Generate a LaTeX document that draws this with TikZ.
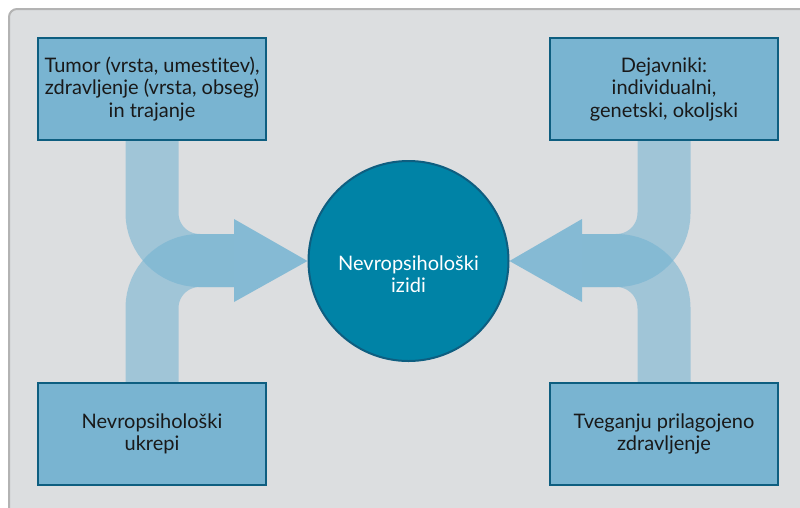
\documentclass[tikz,border=0pt]{standalone}
\usepackage{fontspec}
\setmainfont{Lato}[Ligatures={NoCommon}]
\usetikzlibrary{backgrounds}
\definecolor{paneel}{RGB}{220,222,224}
\definecolor{rob}{RGB}{179,179,179}
\definecolor{skatla}{RGB}{121,180,209}
\definecolor{temna}{RGB}{14,94,128}
\definecolor{krog}{RGB}{0,131,166}
\definecolor{pas}{RGB}{111,177,209}
\definecolor{konica}{RGB}{133,186,212}
\begin{document}
\begin{tikzpicture}[x=1pt, y=-1pt,
    box/.style={rectangle, draw=temna, fill=skatla, line width=2pt, minimum width=228pt, minimum height=102pt, align=center, text=black!90, font=\fontsize{20}{22.5}\selectfont},
    band/.style={draw=pas, line width=53pt, opacity=0.55, rounded corners=47.5pt},
    head/.style={fill=konica}]
    \useasboundingbox (0,0) rectangle (800,507);
    \clip (0,0) rectangle (800,507);

    % skatle
    \node[box] (tum) at (152,89) {Tumor (vrsta, umestitev),\\zdravljenje (vrsta, obseg)\\in trajanje};
    \node[box] (ukr) at (152,434) {Nevropsihološki\\ukrepi};
    \node[box] (dej) at (664,89) {Dejavniki:\\individualni,\\genetski, okoljski};
    \node[box] (tve) at (664,434) {Tveganju prilagojeno\\zdravljenje};
    \node[circle, draw=temna, fill=krog, line width=2pt, minimum size=200pt] (izidi) at (408.5,261) {};
    \node[text=white, align=center, font=\fontsize{20}{22.5}\selectfont] (izidiT) at (408.5,274) {Nevropsihološki\\izidi};

    \coordinate (baseL) at (234,260.5);
    \coordinate (baseR) at (582,260.5);

    \begin{scope}[on background layer]
        % ozadje
        \draw[fill=paneel, draw=rob, line width=2pt, rounded corners=8pt] (9,9) rectangle (830,540);

        % puscice levo
        \draw[band] (tum.south) |- (baseL);
        \draw[band] (ukr.north) |- (baseL);
        \fill[head] (234,219) -- (234,302) -- (izidi.west) -- cycle;

        % puscice desno
        \draw[band] (dej.south) |- (baseR);
        \draw[band] (tve.north) |- (baseR);
        \fill[head] (582,219) -- (582,302) -- (izidi.east) -- cycle;
    \end{scope}
\end{tikzpicture}
\end{document}
